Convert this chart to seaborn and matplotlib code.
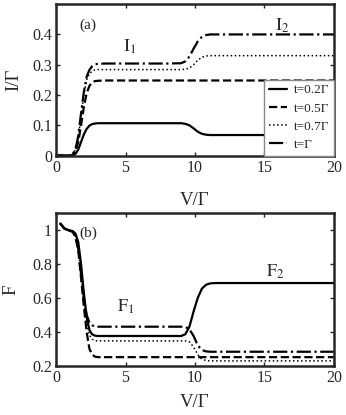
import matplotlib
matplotlib.use('Agg')
import matplotlib.pyplot as plt
import seaborn as sns

# bias voltage grids (V/Gamma)
v_top = [0, 0.5, 1.0, 1.2, 1.4, 1.6, 1.8, 2.0, 2.2, 2.4, 2.6, 2.8, 3.0, 3.5, 5, 8,
         9.0, 9.3, 9.6, 9.9, 10.2, 10.5, 10.8, 11.1, 11.5, 13, 16, 20]
v_bot = [0.3, 0.6, 0.9, 1.2, 1.4, 1.6, 1.8, 2.0, 2.2, 2.4, 2.6, 2.8, 3.0, 3.5, 5, 8,
         9.0, 9.3, 9.6, 9.9, 10.2, 10.5, 10.8, 11.1, 11.5, 13, 16, 20]

# current I/Gamma
i_02 = [0, 0, 0, 0.001, 0.006, 0.02, 0.045, 0.07, 0.088, 0.099, 0.104, 0.106, 0.107, 0.107, 0.107, 0.107,
        0.107, 0.105, 0.1, 0.09, 0.079, 0.072, 0.069, 0.068, 0.068, 0.068, 0.068, 0.068]
i_05 = [0, 0, 0, 0.003, 0.015, 0.045, 0.1, 0.16, 0.205, 0.23, 0.242, 0.246, 0.247, 0.248, 0.248, 0.248,
        0.248, 0.248, 0.248, 0.248, 0.248, 0.248, 0.248, 0.248, 0.248, 0.248, 0.248, 0.248]
i_07 = [0, 0, 0, 0.004, 0.02, 0.06, 0.13, 0.2, 0.25, 0.27, 0.279, 0.283, 0.284, 0.284, 0.284, 0.284,
        0.284, 0.285, 0.289, 0.3, 0.315, 0.325, 0.329, 0.33, 0.33, 0.33, 0.33, 0.33]
i_10 = [0, 0, 0, 0.005, 0.022, 0.065, 0.14, 0.21, 0.26, 0.283, 0.295, 0.301, 0.303, 0.304, 0.304, 0.304,
        0.305, 0.311, 0.327, 0.353, 0.377, 0.392, 0.398, 0.4, 0.4, 0.4, 0.4, 0.4]

# Fano factor F
f_02 = [1.04, 1.01, 1.0, 0.995, 0.98, 0.93, 0.8, 0.63, 0.49, 0.41, 0.385, 0.377, 0.375, 0.375, 0.375, 0.375,
        0.375, 0.385, 0.43, 0.52, 0.6, 0.655, 0.678, 0.686, 0.688, 0.688, 0.688, 0.688]
f_05 = [1.04, 1.01, 1.0, 0.99, 0.96, 0.88, 0.72, 0.55, 0.4, 0.3, 0.265, 0.253, 0.25, 0.25, 0.25, 0.25,
        0.25, 0.25, 0.25, 0.25, 0.25, 0.25, 0.25, 0.25, 0.25, 0.25, 0.25, 0.25]
f_07 = [1.04, 1.01, 1.0, 0.99, 0.965, 0.89, 0.74, 0.58, 0.45, 0.38, 0.356, 0.348, 0.346, 0.346, 0.346, 0.346,
        0.346, 0.346, 0.34, 0.31, 0.265, 0.238, 0.23, 0.228, 0.228, 0.228, 0.228, 0.228]
f_10 = [1.04, 1.01, 1.0, 0.99, 0.965, 0.89, 0.74, 0.6, 0.5, 0.455, 0.438, 0.432, 0.43, 0.43, 0.43, 0.43,
        0.43, 0.429, 0.415, 0.375, 0.32, 0.292, 0.284, 0.282, 0.282, 0.282, 0.282, 0.282]

labels = ['t=0.2\u0393', 't=0.5\u0393', 't=0.7\u0393', 't=\u0393']
styles = [('-', 1.6), ('--', 1.6), (':', 1.1), ('-.', 1.6)]

sns.set_style('ticks')
plt.rcParams['font.family'] = ['Liberation Serif', 'DejaVu Serif']
plt.rcParams['mathtext.fontset'] = 'stix'

fig = plt.figure(figsize=(3.46, 4.15), dpi=100)
ax1 = fig.add_axes([0.162, 0.625, 0.803, 0.365])
ax2 = fig.add_axes([0.162, 0.119, 0.803, 0.367])

for y, lab, (ls, lw) in zip([i_02, i_05, i_07, i_10], labels, styles):
    sns.lineplot(x=v_top, y=y, ax=ax1, color='black', linestyle=ls, linewidth=lw, label=lab)
for y, (ls, lw) in zip([f_02, f_05, f_07, f_10], styles):
    sns.lineplot(x=v_bot, y=y, ax=ax2, color='black', linestyle=ls, linewidth=lw)

for ax in (ax1, ax2):
    ax.set_xlim(0, 20)
    ax.set_xticks([0, 5, 10, 15, 20])
    ax.tick_params(direction='in', top=True, right=True, length=3, width=1, labelsize=11.5, pad=3)
    for sp in ax.spines.values():
        sp.set_linewidth(1.8)

ax1.set_xlabel('V/\u0393', fontsize=13.5, labelpad=12)
ax2.set_xlabel('V/\u0393', fontsize=13.5, labelpad=6)

ax1.set_ylim(0, 0.5)
ax1.set_yticks([0, 0.1, 0.2, 0.3, 0.4])
ax1.set_yticklabels(['0', '0.1', '0.2', '0.3', '0.4'])
ax1.set_ylabel('I/\u0393', fontsize=13.5, labelpad=7)

ax2.set_ylim(0.2, 1.1)
ax2.set_yticks([0.2, 0.4, 0.6, 0.8, 1.0])
ax2.set_yticklabels(['0.2', '0.4', '0.6', '0.8', '1'])
ax2.set_ylabel('F', fontsize=13.5, labelpad=9)

leg = ax1.legend(loc='lower right', fontsize=9.5, handlelength=1.4, handletextpad=0.5,
                 borderaxespad=0.0, frameon=True, fancybox=False, framealpha=1.0,
                 borderpad=0.35, labelspacing=0.45)
leg.get_frame().set_edgecolor('#888888')
leg.get_frame().set_linewidth(1.0)

ax1.text(2.3, 0.43, '(a)', fontsize=11, ha='center', va='center')
ax1.text(5.3, 0.36, r'$\mathrm{I}_1$', fontsize=13, ha='center', va='center')
ax1.text(16.3, 0.43, r'$\mathrm{I}_2$', fontsize=13, ha='center', va='center')
ax2.text(2.3, 0.985, '(b)', fontsize=11, ha='center', va='center')
ax2.text(5.0, 0.548, r'$\mathrm{F}_1$', fontsize=13, ha='center', va='center')
ax2.text(15.8, 0.755, r'$\mathrm{F}_2$', fontsize=13, ha='center', va='center')

fig.savefig('out.png', dpi=100)
